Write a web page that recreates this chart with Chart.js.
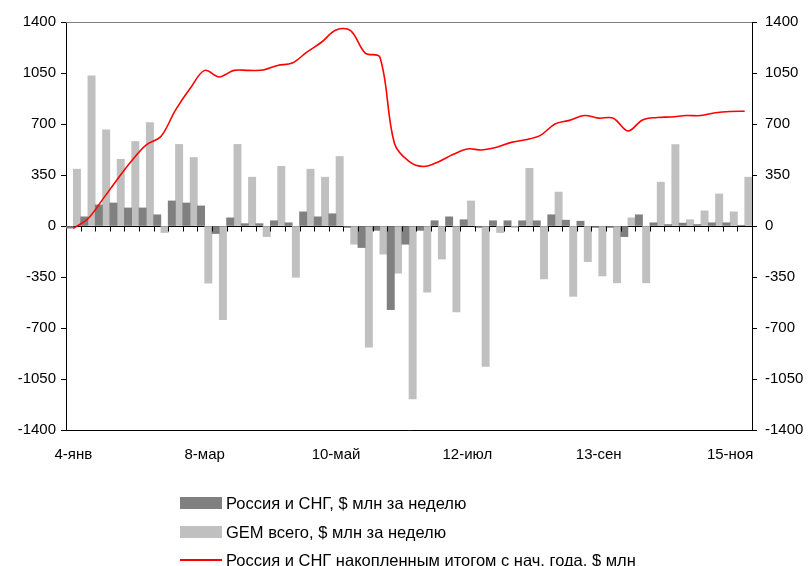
<!DOCTYPE html>
<html>
<head>
<meta charset="utf-8">
<script src="https://cdn.jsdelivr.net/npm/chart.js@4"></script>
<style>
  body { margin: 0; background: #fff; }
  #wrap { position: relative; width: 808px; height: 566px; }
  #legend { position: absolute; left: 180px; top: 0; font: 16.5px "Liberation Sans", Arial, sans-serif; color: #000; }
  .item { position: absolute; left: 0; white-space: nowrap; height: 18px; line-height: 18px; }
  .key { position: absolute; left: 0; width: 42px; }
  .txt { position: absolute; left: 46px; }
</style>
</head>
<body>
<div id="wrap">
  <canvas id="chart" width="808" height="566"></canvas>
  <div id="legend"></div>
</div>
<script>
const labels = ['4-янв', '11-янв', '18-янв', '25-янв', '1-фев', '8-фев', '15-фев', '22-фев', '1-мар',
  '8-мар', '15-мар', '22-мар', '29-мар', '5-апр', '12-апр', '19-апр', '26-апр', '3-май',
  '10-май', '17-май', '24-май', '31-май', '7-июн', '14-июн', '21-июн', '28-июн', '5-июл',
  '12-июл', '19-июл', '26-июл', '2-авг', '9-авг', '16-авг', '23-авг', '30-авг', '6-сен',
  '13-сен', '20-сен', '27-сен', '4-окт', '11-окт', '18-окт', '25-окт', '1-ноя', '8-ноя',
  '15-ноя', '22-ноя']

// Россия и СНГ, за неделю
const russia = [-15, 63, 145, 158, 124, 124, 77, 172, 158, 138, -52, 56, 16, 16, 36, 22, 97, 63,
  84, -10, -148, -30, -574, -125, -30, 36, 63, 43, -10, 36, 36, 36, 36, 77, 40, 33,
  -10, -10, -73, 77, 22, 10, 20, 10, 22, 22, 5]

// GEM всего, за неделю
const gem = [390, 1030, 660, 458, 580, 709, -45, 560, 470, -392, -642, 560, 335, -73, 410, -352, 390, 335,
  477, -125, -832, -193, -324, -1186, -454, -227, -590, 172, -963, -45, -10, 396, -363, 233, -483, -245,
  -343, -390, 56, -390, 301, 559, 43, 104, 220, 97, 335]

// накопленным итогом
const cumulative = [-16, 50, 181, 318, 448, 557, 614, 795, 943, 1068, 1023, 1068, 1068, 1070, 1102, 1118, 1193, 1261,
  1345, 1341, 1187, 1159, 568, 443, 408, 440, 490, 529, 522, 540, 574, 592, 622, 700, 725, 758,
  740, 740, 652, 728, 745, 748, 758, 758, 777, 786, 788]

const yTicks = [-1400, -1050, -700, -350, 0, 350, 700, 1050, 1400]

const font = { family: '"Liberation Sans", Arial, sans-serif', size: 15 }

// zero line ticks + top border
const extras = {
    id: 'extras',
    afterDatasetsDraw(chart) {
        const ctx = chart.ctx
        const x = chart.scales.x
        const y = chart.scales.y
        const area = chart.chartArea
        const zero = Math.round(y.getPixelForValue(0)) + 0.5
        ctx.save()
        ctx.strokeStyle = '#000'
        ctx.lineWidth = 1
        ctx.beginPath()
        for (let i = 1; i < labels.length; i++) {
            const bx = Math.round((x.getPixelForValue(i - 1) + x.getPixelForValue(i)) / 2) + 0.5
            ctx.moveTo(bx, zero)
            ctx.lineTo(bx, zero + 5)
        }
        ctx.stroke()
        ctx.strokeStyle = '#808080'
        ctx.beginPath()
        ctx.moveTo(area.left, area.top + 0.5)
        ctx.lineTo(area.right, area.top + 0.5)
        ctx.stroke()
        ctx.restore()
    }
}

const chart = new Chart(document.getElementById('chart').getContext('2d'), {
    type: 'bar',
    data: {
        labels: labels,
        datasets: [
            {
                type: 'line',
                label: 'Россия и СНГ накопленным итогом с нач. года, $ млн',
                data: cumulative,
                borderColor: '#FF0000',
                borderWidth: 1.6,
                pointRadius: 0,
                tension: 0.35,
                fill: false,
                order: 0,
                yAxisID: 'y'
            },
            {
                label: 'Россия и СНГ, $ млн за неделю',
                data: russia,
                backgroundColor: '#808080',
                categoryPercentage: 1,
                barPercentage: 1,
                order: 1,
                yAxisID: 'y'
            },
            {
                label: 'GEM всего, $ млн за неделю',
                data: gem,
                backgroundColor: '#C0C0C0',
                categoryPercentage: 1,
                barPercentage: 1,
                order: 2,
                yAxisID: 'y'
            }
        ]
    },
    options: {
        responsive: false,
        animation: false,
        layout: { padding: { top: 22, left: 0, right: 0, bottom: 0 } },
        plugins: { legend: { display: false }, tooltip: { enabled: false } },
        scales: {
            x: {
                offset: true,
                grid: { display: false, drawTicks: false, tickLength: 0 },
                border: { display: true, color: '#000', width: 1 },
                ticks: {
                    autoSkip: false, maxRotation: 0, minRotation: 0, padding: 16,
                    color: '#000', font: font,
                    callback: (v, i) => i % 9 === 0 ? labels[i] : ''
                },
                afterFit: s => { s.height = 136 }
            },
            y: {
                position: 'left',
                min: -1400, max: 1400,
                afterBuildTicks: s => { s.ticks = yTicks.map(v => ({ value: v })) },
                grid: {
                    drawOnChartArea: true,
                    color: c => c.tick && c.tick.value === 0 ? '#000' : 'rgba(0,0,0,0)',
                    tickColor: '#000', tickLength: 5, lineWidth: 1
                },
                border: { display: true, color: '#000', width: 1 },
                ticks: { color: '#000', font: font, padding: 5, callback: v => String(v) },
                afterFit: s => { s.width = 66 }
            },
            y1: {
                position: 'right',
                min: -1400, max: 1400,
                afterBuildTicks: s => { s.ticks = yTicks.map(v => ({ value: v })) },
                grid: { drawOnChartArea: false, tickColor: '#000', tickLength: 5 },
                border: { display: true, color: '#000', width: 1 },
                ticks: { color: '#000', font: font, padding: 8, callback: v => String(v) },
                afterFit: s => { s.width = 56 }
            }
        }
    },
    plugins: [extras]
});

// legend, stacked like the original
const legend = document.getElementById('legend')
const rows = [
    { ds: chart.data.datasets[1], top: 494, kind: 'box' },
    { ds: chart.data.datasets[2], top: 523, kind: 'box' },
    { ds: chart.data.datasets[0], top: 551, kind: 'line' }
]
rows.forEach(r => {
    const item = document.createElement('div')
    item.className = 'item'
    item.style.top = r.top + 'px'
    const key = document.createElement('div')
    key.className = 'key'
    if (r.kind === 'box') {
        key.style.top = '3px'
        key.style.height = '12px'
        key.style.background = r.ds.backgroundColor
    } else {
        key.style.top = '8px'
        key.style.height = '2px'
        key.style.background = r.ds.borderColor
    }
    const txt = document.createElement('span')
    txt.className = 'txt'
    txt.textContent = r.ds.label
    item.appendChild(key)
    item.appendChild(txt)
    legend.appendChild(item)
})
</script>
</body>
</html>
